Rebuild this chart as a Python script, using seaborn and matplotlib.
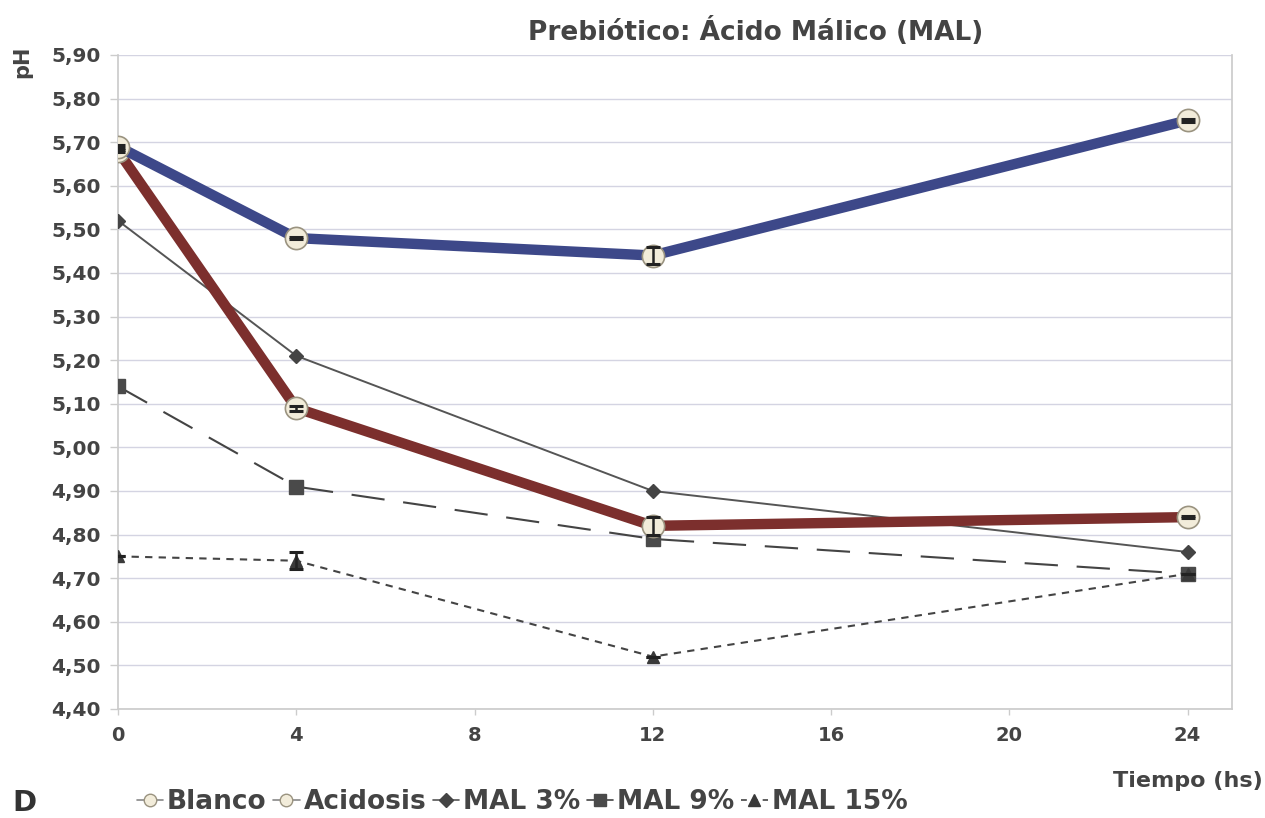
import matplotlib
matplotlib.use("Agg")
import matplotlib.pyplot as plt
from matplotlib.ticker import FuncFormatter, MultipleLocator
from matplotlib.lines import Line2D
import seaborn as sns
import pandas as pd

# Sampling times (hours)
tiempo = [0, 4, 12, 24]

# pH values per treatment
blanco = [5.69, 5.48, 5.44, 5.75]
acidosis = [5.68, 5.09, 4.82, 4.84]
mal_3 = [5.52, 5.21, 4.90, 4.76]
mal_9 = [5.14, 4.91, 4.79, 4.71]
mal_15 = [4.75, 4.74, 4.52, 4.71]

# Standard deviations (error bars)
blanco_sd = [0.003, 0.003, 0.02, 0.003]
acidosis_sd = [0.003, 0.006, 0.02, 0.003]
mal_15_sd = [0.0, 0.02, 0.0, 0.0]

series_names = ["Blanco", "Acidosis", "MAL 3%", "MAL 9%", "MAL 15%"]
x_ticks = [0, 4, 8, 12, 16, 20, 24]

rows = []
for name, vals in zip(series_names, [blanco, acidosis, mal_3, mal_9, mal_15]):
    for t, v in zip(tiempo, vals):
        rows.append({"Tiempo": t, "pH": v, "Serie": name})
df = pd.DataFrame(rows)

sns.set_theme(style="white")
plt.rcParams["font.family"] = ["DejaVu Sans"]

fig = plt.figure(figsize=(12.65, 8.18), dpi=100)
ax = fig.add_axes([0.0933, 0.1333, 0.8807, 0.7995])

cream = "#f2ecda"
styles = {
    "Blanco": dict(color="#3d4889", lw=7.5, marker="o", ms=16, mfc=cream, mec="#9a9380", mew=1.2, ls="-", z=5),
    "Acidosis": dict(color="#7c2f2d", lw=7.5, marker="o", ms=16, mfc=cream, mec="#9a9380", mew=1.2, ls="-", z=4),
    "MAL 3%": dict(color="#555555", lw=1.4, marker="D", ms=7, mfc="#444444", mec="#444444", mew=1, ls="-", z=3),
    "MAL 9%": dict(color="#444444", lw=1.5, marker="s", ms=10, mfc="#4a4a4a", mec="#4a4a4a", mew=1, ls=(0, (16, 9)), z=3),
    "MAL 15%": dict(color="#444444", lw=1.5, marker="^", ms=9, mfc="#3a3a3a", mec="#3a3a3a", mew=1, ls=(0, (3.5, 3)), z=3),
}

for name in series_names:
    st = styles[name]
    sub = df[df["Serie"] == name]
    sns.lineplot(data=sub, x="Tiempo", y="pH", ax=ax, color=st["color"], lw=st["lw"],
                 linestyle=st["ls"], marker=st["marker"], markersize=st["ms"],
                 markerfacecolor=st["mfc"], markeredgecolor=st["mec"], markeredgewidth=st["mew"],
                 zorder=st["z"], legend=False)

# Error bars drawn over the markers
for vals, sd in [(blanco, blanco_sd), (acidosis, acidosis_sd), (mal_15, mal_15_sd)]:
    ax.errorbar(tiempo, vals, yerr=sd, fmt="none", ecolor="#222222", elinewidth=1.8,
                capsize=5, capthick=2.2, zorder=6)

ax.set_xlim(0, 25)
ax.set_ylim(4.40, 5.90)
ax.set_xticks(x_ticks)
ax.yaxis.set_major_locator(MultipleLocator(0.10))
ax.yaxis.set_major_formatter(FuncFormatter(lambda v, p: f"{v:.2f}".replace(".", ",")))
ax.grid(axis="y", color="#d4d4e2", lw=1)
ax.grid(axis="x", visible=False)
ax.spines["top"].set_visible(False)
for side in ["left", "bottom", "right"]:
    ax.spines[side].set_color("#cccccc")
ax.tick_params(axis="y", length=5.8, width=1, color="#cccccc", labelsize=14.5,
               labelcolor="#444444", pad=6.5, left=True)
ax.tick_params(axis="x", length=4.5, width=1, color="#cccccc", labelsize=14,
               labelcolor="#444444", pad=8, bottom=True)
for lbl in ax.get_xticklabels() + ax.get_yticklabels():
    lbl.set_fontweight("bold")
ax.set_xlabel("")
ax.set_ylabel("")

fig.text(0.597, 0.961, "Prebiótico: Ácido Málico (MAL)", ha="center", va="center",
         fontsize=19, fontweight="bold", color="#444444")
fig.text(0.0174, 0.924, "pH", rotation=90, ha="center", va="center", fontsize=15,
         fontweight="bold", color="#444444")
fig.text(0.998, 0.045, "Tiempo (hs)", ha="right", va="center", fontsize=16,
         fontweight="bold", color="#444444")
fig.text(0.010, 0.018, "D", ha="left", va="center", fontsize=21,
         fontweight="bold", color="#333333")

handles = []
for name in series_names:
    st = styles[name]
    thin = st["lw"] < 3
    handles.append(Line2D([0], [0], color=st["color"] if thin else "#888888",
                          lw=1.2, ls=st["ls"] if name == "MAL 15%" else "-",
                          marker=st["marker"], markersize=min(st["ms"], 9) if thin else 9,
                          markerfacecolor=st["mfc"], markeredgecolor=st["mec"], markeredgewidth=1))
leg = fig.legend(handles, series_names, loc="center left", bbox_to_anchor=(0.108, 0.019),
                 ncol=5, frameon=False, handlelength=1.0, handletextpad=0.15,
                 columnspacing=0.25, borderaxespad=0, borderpad=0,
                 prop={"size": 19, "weight": "bold"})
for t in leg.get_texts():
    t.set_color("#444444")

fig.savefig("out.png", dpi=100)
